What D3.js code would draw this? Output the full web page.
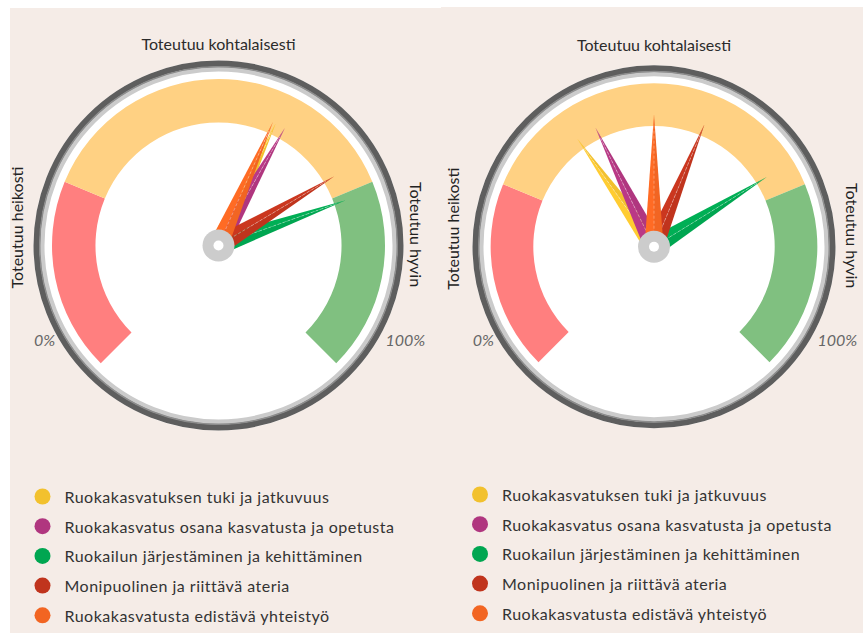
<!DOCTYPE html>
<html>
<head>
<meta charset="utf-8">
<script src="https://cdn.jsdelivr.net/npm/d3@7"></script>
<style>
  body { margin: 0; background: #fff; }
  svg { display: block; }
  text { font-family: Lato, "Open Sans", sans-serif; }
</style>
</head>
<body>
<script>
// categories and their colours
var categories = [
  "Ruokakasvatuksen tuki ja jatkuvuus",
  "Ruokakasvatus osana kasvatusta ja opetusta",
  "Ruokailun järjestäminen ja kehittäminen",
  "Monipuolinen ja riittävä ateria",
  "Ruokakasvatusta edistävä yhteistyö"
];
var colors = ["#f2c12e", "#b0367f", "#00a651", "#c0341d", "#f26522"];

// needle values (0-100 %) for each gauge
var valuesLeft = [59.3, 60.9, 76.1, 71.9, 58.8];
var valuesRight = [36.9, 40.3, 71.6, 58.3, 50.0];

// bands
var bandStops = [0, 25, 75, 100];
var bandColors = ["#ff7f7f", "#ffd183", "#80c080"];

var titleLabel = "Toteutuu kohtalaisesti";
var lowLabel = "Toteutuu heikosti";
var highLabel = "Toteutuu hyvin";
var minLabel = "0%";
var maxLabel = "100%";

var width = 863, height = 633;

var svg = d3.select("body").append("svg")
  .attr("width", width)
  .attr("height", height);

// panels
svg.append("rect").attr("x", 10).attr("y", 8).attr("width", 432).attr("height", height - 8).attr("fill", "#f5ece7");
svg.append("rect").attr("x", 441).attr("y", 7).attr("width", width - 441).attr("height", height - 7).attr("fill", "#f5ece7");

var angle = d3.scaleLinear().domain([0, 100]).range([-135, 135]);

function drawGauge(cx, cy, R, values) {
  var g = svg.append("g").attr("transform", "translate(" + cx + "," + cy + ")");

  // face and rim
  g.append("circle").attr("r", R).attr("fill", "#fff");
  g.append("circle").attr("r", R - 3).attr("fill", "none").attr("stroke", "#5e5e5e").attr("stroke-width", 6);
  g.append("circle").attr("r", R - 6.5).attr("fill", "none").attr("stroke", "#8c8c8c").attr("stroke-width", 2);
  g.append("circle").attr("r", R - 9).attr("fill", "none").attr("stroke", "#cbcbcb").attr("stroke-width", 4);

  var arc = d3.arc().innerRadius(R * 0.665).outerRadius(R * 0.9);
  g.selectAll("path.band")
    .data(bandColors)
    .enter()
    .append("path")
    .attr("class", "band")
    .attr("d", function (d, i) {
      return arc({
        startAngle: angle(bandStops[i]) * Math.PI / 180,
        endAngle: angle(bandStops[i + 1]) * Math.PI / 180
      });
    })
    .attr("fill", function (d) { return d; });

  // needles
  var L = R * 0.73, w = 9.5;
  var needles = g.selectAll("g.needle")
    .data(values)
    .enter()
    .append("g")
    .attr("class", "needle")
    .attr("transform", function (d) { return "rotate(" + angle(d) + ")"; });

  needles.append("path")
    .attr("d", "M0,0 L" + (-w) + ",0 L0," + (-L) + "Z")
    .attr("fill", function (d, i) { return d3.color(colors[i]).brighter(0.15); });
  needles.append("path")
    .attr("d", "M0,0 L" + w + ",0 L0," + (-L) + "Z")
    .attr("fill", function (d, i) { return colors[i]; });
  needles.append("line")
    .attr("x1", 0).attr("y1", -18).attr("x2", 0).attr("y2", -L + 10)
    .attr("stroke", "rgba(255,255,255,0.45)")
    .attr("stroke-width", 0.7)
    .attr("stroke-dasharray", "3,2");

  // hub
  g.append("circle").attr("r", 16).attr("fill", "#cccccc");
  g.append("circle").attr("r", 5).attr("fill", "#fff");

  // labels
  svg.append("text")
    .attr("x", cx).attr("y", cy - 202)
    .attr("text-anchor", "middle").attr("dominant-baseline", "central")
    .attr("font-size", 16).attr("fill", "#2b2b2b")
    .text(titleLabel);
  svg.append("text")
    .attr("transform", "translate(" + (cx - 202) + "," + (cy - 18) + ") rotate(-90)")
    .attr("text-anchor", "middle").attr("dominant-baseline", "central")
    .attr("font-size", 16).attr("fill", "#222")
    .text(lowLabel);
  svg.append("text")
    .attr("transform", "translate(" + (cx + 198) + "," + (cy - 11) + ") rotate(90)")
    .attr("text-anchor", "middle").attr("dominant-baseline", "central")
    .attr("font-size", 16).attr("fill", "#222")
    .text(highLabel);
  svg.append("text")
    .attr("x", cx - R * 0.94).attr("y", cy + R * 0.51)
    .attr("text-anchor", "middle").attr("dominant-baseline", "central")
    .attr("font-size", 16).attr("font-style", "italic").attr("fill", "#666")
    .text(minLabel);
  svg.append("text")
    .attr("x", cx + R * 1.01).attr("y", cy + R * 0.51)
    .attr("text-anchor", "middle").attr("dominant-baseline", "central")
    .attr("font-size", 16).attr("font-style", "italic").attr("fill", "#666")
    .text(maxLabel);
}

drawGauge(218.5, 245.5, 185, valuesLeft);
drawGauge(654, 246.7, 181.5, valuesRight);

function drawLegend(x, y) {
  var items = svg.selectAll(null)
    .data(categories)
    .enter()
    .append("g")
    .attr("transform", function (d, i) { return "translate(" + x + "," + (y + i * 29.7) + ")"; });
  items.append("circle")
    .attr("r", 8)
    .attr("fill", function (d, i) { return colors[i]; });
  items.append("text")
    .attr("x", 22)
    .attr("dominant-baseline", "central")
    .attr("font-size", 16)
    .attr("letter-spacing", 0.5)
    .attr("fill", "#333")
    .text(function (d) { return d; });
}

drawLegend(42.5, 496.5);
drawLegend(480, 494.5);
</script>
</body>
</html>
